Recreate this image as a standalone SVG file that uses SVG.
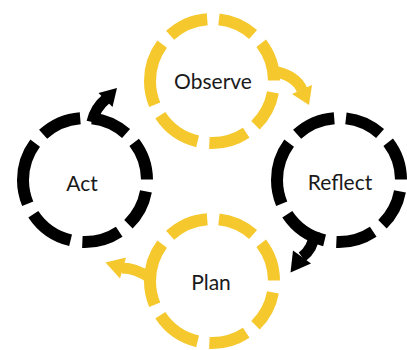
<svg xmlns="http://www.w3.org/2000/svg" width="407" height="350" viewBox="0 0 407 350">
  <style>
    .ring { fill: none; stroke-width: 12; stroke-dasharray: 0 10.5 35 11 36 11 43 11 59 11 38 11 35 11 37 0.5; }
    .shaft { fill: none; stroke-width: 11; stroke-linecap: butt; }
    .gold { stroke: #F5C82E; }
    .ink { stroke: #000000; }
    .gold-fill { fill: #F5C82E; }
    .ink-fill { fill: #000000; }
    .label { font-family: Lato, "Liberation Sans", sans-serif; font-size: 21px; fill: #1a1a1a; text-anchor: middle; }
  </style>
  <rect width="407" height="350" fill="#ffffff"/>

  <g id="observe">
    <path class="ring gold" pathLength="360" d="M274,81 A62,62 0 0 1 150,81 A62,62 0 0 1 274,81 Z"/>
    <text class="label" x="213" y="89">Observe</text>
  </g>

  <g id="reflect">
    <path class="ring ink" pathLength="360" d="M401,180 A62,62 0 0 1 277,180 A62,62 0 0 1 401,180 Z"/>
    <text class="label" x="340" y="190">Reflect</text>
  </g>

  <g id="plan">
    <path class="ring gold" pathLength="360" d="M274,281 A62,62 0 0 1 150,281 A62,62 0 0 1 274,281 Z"/>
    <text class="label" x="211" y="290">Plan</text>
  </g>

  <g id="act">
    <path class="ring ink" pathLength="360" d="M147,180 A62,62 0 0 1 23,180 A62,62 0 0 1 147,180 Z"/>
    <text class="label" x="82" y="191">Act</text>
  </g>

  <g id="connectors">
    <!-- Observe to Reflect -->
    <path class="shaft gold" d="M272,71 Q296,75 302,90"/>
    <polygon class="gold-fill" points="312,85 292,94 309,105"/>
    <!-- Reflect to Plan -->
    <path class="shaft ink" d="M315,232 Q313,249 302,257"/>
    <polygon class="ink-fill" points="311,263.5 293,250.5 290.5,272.5"/>
    <!-- Plan to Act -->
    <path class="shaft gold" d="M150,278 Q136,268 122,268"/>
    <polygon class="gold-fill" points="126,257.5 120,278.5 105.5,262.5"/>
    <!-- Act to Observe -->
    <path class="shaft ink" d="M92,122 Q95,108 106,99"/>
    <polygon class="ink-fill" points="112.5,107 98.5,93 117,88"/>
  </g>
</svg>
